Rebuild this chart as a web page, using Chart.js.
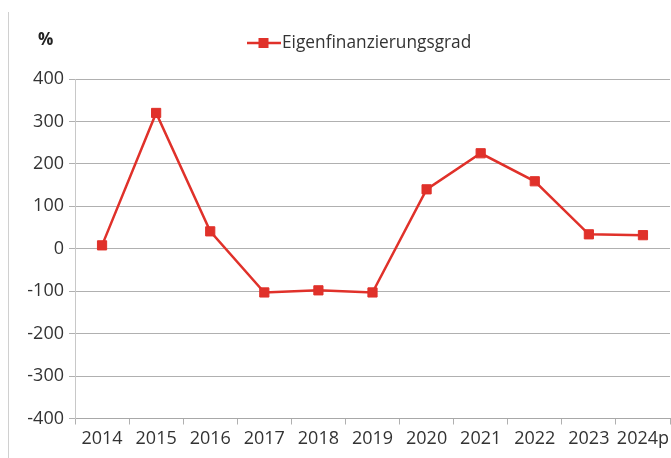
<!DOCTYPE html>
<html><head><meta charset="utf-8">
<script src="https://cdn.jsdelivr.net/npm/chart.js@4/dist/chart.umd.min.js"></script>
<style>html,body{margin:0;padding:0;background:#fff}#wrap{width:671px;height:458px;position:relative}</style>
</head><body><div id="wrap"><canvas id="c" width="671" height="458"></canvas></div>
<script>
const categories = ["2014","2015","2016","2017","2018","2019","2020","2021","2022","2023","2024p"];
const eigenfinanzierungsgrad = [8, 320, 41, -103, -98, -103, 140, 225, 159, 34, 32];
const seriesLabel = "Eigenfinanzierungsgrad";
const unitLabel = "%";
const yTicks = {min: -400, max: 400, step: 100};

const RED = '#e0312a';
const FONT = "'Open Sans', 'Noto Sans', sans-serif";

const decor = {
  id: 'decor',
  afterDraw(chart) {
    const ctx = chart.ctx;
    ctx.save();
    ctx.strokeStyle = '#d0d0d0'; ctx.lineWidth = 1;
    ctx.beginPath(); ctx.moveTo(8.5, 12); ctx.lineTo(8.5, 458); ctx.stroke();
    ctx.fillStyle = '#222'; ctx.font = "bold 17px " + FONT;
    ctx.textBaseline = 'middle'; ctx.textAlign = 'left';
    ctx.fillText(unitLabel, 38, 40);
    const ly = 43;
    ctx.strokeStyle = RED; ctx.lineWidth = 2.5;
    ctx.beginPath(); ctx.moveTo(247, ly); ctx.lineTo(281, ly); ctx.stroke();
    ctx.fillStyle = RED; ctx.fillRect(258.5, ly - 5, 10, 10);
    ctx.fillStyle = '#333'; ctx.font = "17.3px " + FONT;
    ctx.fillText(chart.data.datasets[0].label, 282, ly);
    ctx.restore();
  }
};

new Chart(document.getElementById('c'), {
  type: 'line',
  data: {
    labels: categories,
    datasets: [{
      label: seriesLabel,
      data: eigenfinanzierungsgrad,
      borderColor: RED,
      backgroundColor: RED,
      borderWidth: 2.5,
      pointStyle: 'rect',
      pointRadius: 6.5,
      pointBorderWidth: 1,
      pointHoverRadius: 6.5,
      tension: 0
    }]
  },
  options: {
    responsive: false,
    animation: false,
    layout: {autoPadding: false, padding: {top: 79, right: 1, left: 0, bottom: 0}},
    plugins: {legend: {display: false}, tooltip: {enabled: false}},
    scales: {
      x: {
        offset: true,
        afterFit(s) { s.paddingRight = 0; s.paddingLeft = 0; s.height = 39.5; },
        grid: {offset: true, drawOnChartArea: false, drawTicks: true, tickLength: 6, color: '#b0b0b0'},
        border: {color: '#a8a8a8'},
        ticks: {color: '#333', font: {family: FONT, size: 18}, padding: 4, maxRotation: 0, autoSkip: false}
      },
      y: {
        min: yTicks.min, max: yTicks.max,
        afterFit(s) { s.width = 75; s.paddingTop = 0; s.paddingBottom = 0; },
        grid: {color: '#b0b0b0', tickLength: 6},
        border: {color: '#c8c8c8'},
        ticks: {stepSize: yTicks.step, color: '#333', font: {family: FONT, size: 18}, padding: 5}
      }
    }
  },
  plugins: [decor]
});
</script>
</body></html>
